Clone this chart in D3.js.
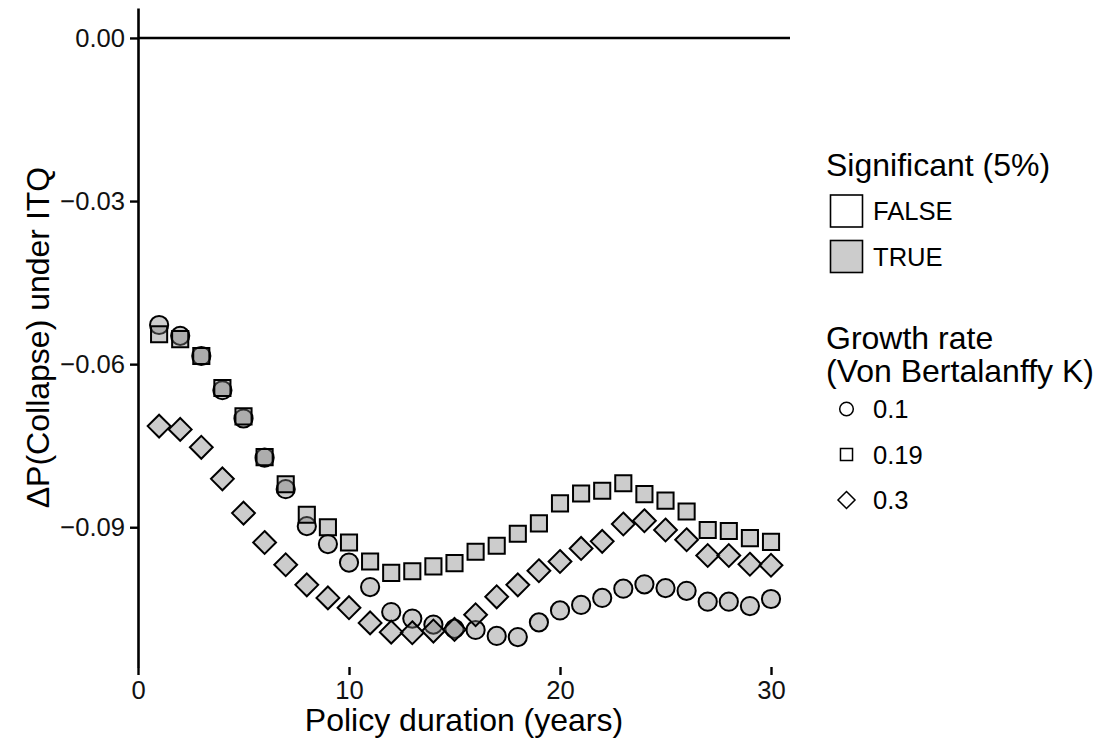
<!DOCTYPE html>
<html>
<head>
<meta charset="utf-8">
<script src="https://cdn.jsdelivr.net/npm/d3@7"></script>
<style>
  html, body { margin: 0; padding: 0; background: #ffffff; }
  text { font-family: "Liberation Sans", Arial, Helvetica, sans-serif; }
</style>
</head>
<body>
<svg id="chart" width="1097" height="748"></svg>
<script>
// Policy duration (years)
const duration = [1, 2, 3, 4, 5, 6, 7, 8, 9, 10, 11, 12, 13, 14, 15,
                  16, 17, 18, 19, 20, 21, 22, 23, 24, 25, 26, 27, 28, 29, 30];

// Change in probability of collapse under ITQ, by growth rate K
const deltaK010 = [-0.0528, -0.0548, -0.0585, -0.0648, -0.0700, -0.0772, -0.0830, -0.0898, -0.0931, -0.0965,
                   -0.1010, -0.1056, -0.1068, -0.1079, -0.1087, -0.1089, -0.1100, -0.1102, -0.1075, -0.1053,
                   -0.1043, -0.1030, -0.1013, -0.1005, -0.1012, -0.1017, -0.1037, -0.1037, -0.1045, -0.1032];
const deltaK019 = [-0.0545, -0.0554, -0.0585, -0.0644, -0.0696, -0.0771, -0.0821, -0.0877, -0.0900, -0.0928,
                   -0.0963, -0.0984, -0.0981, -0.0972, -0.0966, -0.0945, -0.0934, -0.0912, -0.0893, -0.0856,
                   -0.0838, -0.0833, -0.0819, -0.0839, -0.0851, -0.0871, -0.0905, -0.0907, -0.0920, -0.0927];
const deltaK030 = [-0.0714, -0.0720, -0.0753, -0.0811, -0.0874, -0.0928, -0.0969, -0.1006, -0.1030, -0.1048,
                   -0.1076, -0.1093, -0.1094, -0.1091, -0.1088, -0.1061, -0.1028, -0.1006, -0.0980, -0.0963,
                   -0.0939, -0.0926, -0.0894, -0.0888, -0.0905, -0.0923, -0.0952, -0.0952, -0.0968, -0.0970];

// Significance at 5% (1 = TRUE, 0 = FALSE)
const sigK010 = [1, 1, 1, 1, 1, 1, 1, 1, 1, 1, 1, 1, 1, 1, 1, 1, 1, 1, 1, 1, 1, 1, 1, 1, 1, 1, 1, 1, 1, 1];
const sigK019 = [1, 1, 1, 1, 1, 1, 1, 1, 1, 1, 1, 1, 1, 1, 1, 1, 1, 1, 1, 1, 1, 1, 1, 1, 1, 1, 1, 1, 1, 1];
const sigK030 = [1, 1, 1, 1, 1, 1, 1, 1, 1, 1, 1, 1, 1, 1, 1, 1, 1, 1, 1, 1, 1, 1, 1, 1, 1, 1, 1, 1, 1, 1];

const growthRates = ["0.1", "0.19", "0.3"];
const sigLevels = ["FALSE", "TRUE"];
const xTicks = [0, 10, 20, 30];
const yTicks = [0, -0.03, -0.06, -0.09];

// ---- layout ----
const panel = { left: 138, right: 790, top: 8, bottom: 667 };
const titleSize = 32, textSize = 25.6;

const series = [
  { k: growthRates[0], values: deltaK010, sig: sigK010, shape: "circle" },
  { k: growthRates[1], values: deltaK019, sig: sigK019, shape: "square" },
  { k: growthRates[2], values: deltaK030, sig: sigK030, shape: "diamond" }
];
const rows = series.flatMap(s => duration.map((d, i) => ({
  x: d, y: s.values[i], sig: s.sig[i] === 1 ? "TRUE" : "FALSE", shape: s.shape
})));

// y range padded 5% on each side, including the zero reference line
const yLo = Math.min(0, d3.min(rows, r => r.y));
const yHi = Math.max(0, d3.max(rows, r => r.y));
const yPad = 0.05 * (yHi - yLo);

const x = d3.scaleLinear().domain([0, 30.9]).range([panel.left, panel.right]);
const y = d3.scaleLinear().domain([yLo - yPad, yHi + yPad]).range([panel.bottom, panel.top]);

const fill = d3.scaleOrdinal().domain(sigLevels).range(["#ffffff", "rgba(127,127,127,0.4)"]);

// circle radius r; square and diamond follow R's pch 21/22/23 proportions
function shapePath(shape, r) {
  if (shape === "circle") return d3.symbol(d3.symbolCircle, Math.PI * r * r)();
  if (shape === "square") { const s = 2 * 0.8862 * r; return d3.symbol(d3.symbolSquare, s * s)(); }
  const h = 1.2533 * r; // half diagonal
  return `M0,${-h}L${h},0L0,${h}L${-h},0Z`;
}

const svg = d3.select("#chart");

// zero reference line
svg.append("line")
  .attr("x1", panel.left).attr("x2", panel.right)
  .attr("y1", y(0)).attr("y2", y(0))
  .attr("stroke", "#000").attr("stroke-width", 2.6);

// y axis
const yAxis = svg.append("g")
  .attr("transform", `translate(${panel.left},0)`)
  .call(d3.axisLeft(y).tickValues(yTicks).tickFormat(d3.format(".2f")).tickSize(8).tickSizeOuter(0).tickPadding(5));
yAxis.select(".domain").attr("stroke", "#000").attr("stroke-width", 2.6);
yAxis.selectAll(".tick line").attr("stroke", "#000").attr("stroke-width", 2.4);
yAxis.selectAll(".tick text").attr("fill", "#111").style("font-size", textSize + "px")
  .style("font-family", "'Liberation Sans', Arial, sans-serif");

// x axis: ticks only
const xAxis = svg.append("g")
  .attr("transform", `translate(0,${panel.bottom})`)
  .call(d3.axisBottom(x).tickValues(xTicks).tickFormat(d3.format("d")).tickSize(8).tickSizeOuter(0).tickPadding(6));
xAxis.select(".domain").remove();
xAxis.selectAll(".tick line").attr("stroke", "#000").attr("stroke-width", 2.4);
xAxis.selectAll(".tick text").attr("fill", "#111").style("font-size", textSize + "px")
  .style("font-family", "'Liberation Sans', Arial, sans-serif");

// points
svg.append("g").selectAll("path")
  .data(rows)
  .join("path")
  .attr("transform", d => `translate(${x(d.x)},${y(d.y)})`)
  .attr("d", d => shapePath(d.shape, 9.1))
  .attr("fill", d => fill(d.sig))
  .attr("stroke", "#000")
  .attr("stroke-width", 2);

// axis titles
svg.append("text")
  .attr("x", (panel.left + panel.right) / 2).attr("y", 731)
  .attr("text-anchor", "middle").style("font-size", titleSize + "px")
  .text("Policy duration (years)");
svg.append("text")
  .attr("transform", `translate(49,${(panel.top + panel.bottom) / 2}) rotate(-90)`)
  .attr("text-anchor", "middle").style("font-size", titleSize + "px")
  .text("ΔP(Collapse) under ITQ");

// legend: significance
const legX = 826, keyCx = 846.5, labX = 873;
svg.append("text").attr("x", legX).attr("y", 176).style("font-size", titleSize + "px").text("Significant (5%)");
sigLevels.forEach((lvl, i) => {
  const cy = 211 + i * 45.5;
  svg.append("rect")
    .attr("x", keyCx - 16).attr("y", cy - 16).attr("width", 32).attr("height", 32)
    .attr("fill", fill(lvl)).attr("stroke", "#000").attr("stroke-width", 1.6);
  svg.append("text").attr("x", labX).attr("y", cy + 9).style("font-size", textSize + "px").text(lvl);
});

// legend: growth rate
svg.append("text").attr("x", legX).attr("y", 349).style("font-size", titleSize + "px").text("Growth rate");
svg.append("text").attr("x", legX).attr("y", 382).style("font-size", titleSize + "px").text("(Von Bertalanffy K)");
series.forEach((s, i) => {
  const cy = 409 + i * 45.5;
  svg.append("path")
    .attr("transform", `translate(${keyCx},${cy})`)
    .attr("d", shapePath(s.shape, 6.8))
    .attr("fill", "none").attr("stroke", "#000").attr("stroke-width", 1.5);
  svg.append("text").attr("x", labX).attr("y", cy + 9).style("font-size", textSize + "px").text(s.k);
});
</script>
</body>
</html>
